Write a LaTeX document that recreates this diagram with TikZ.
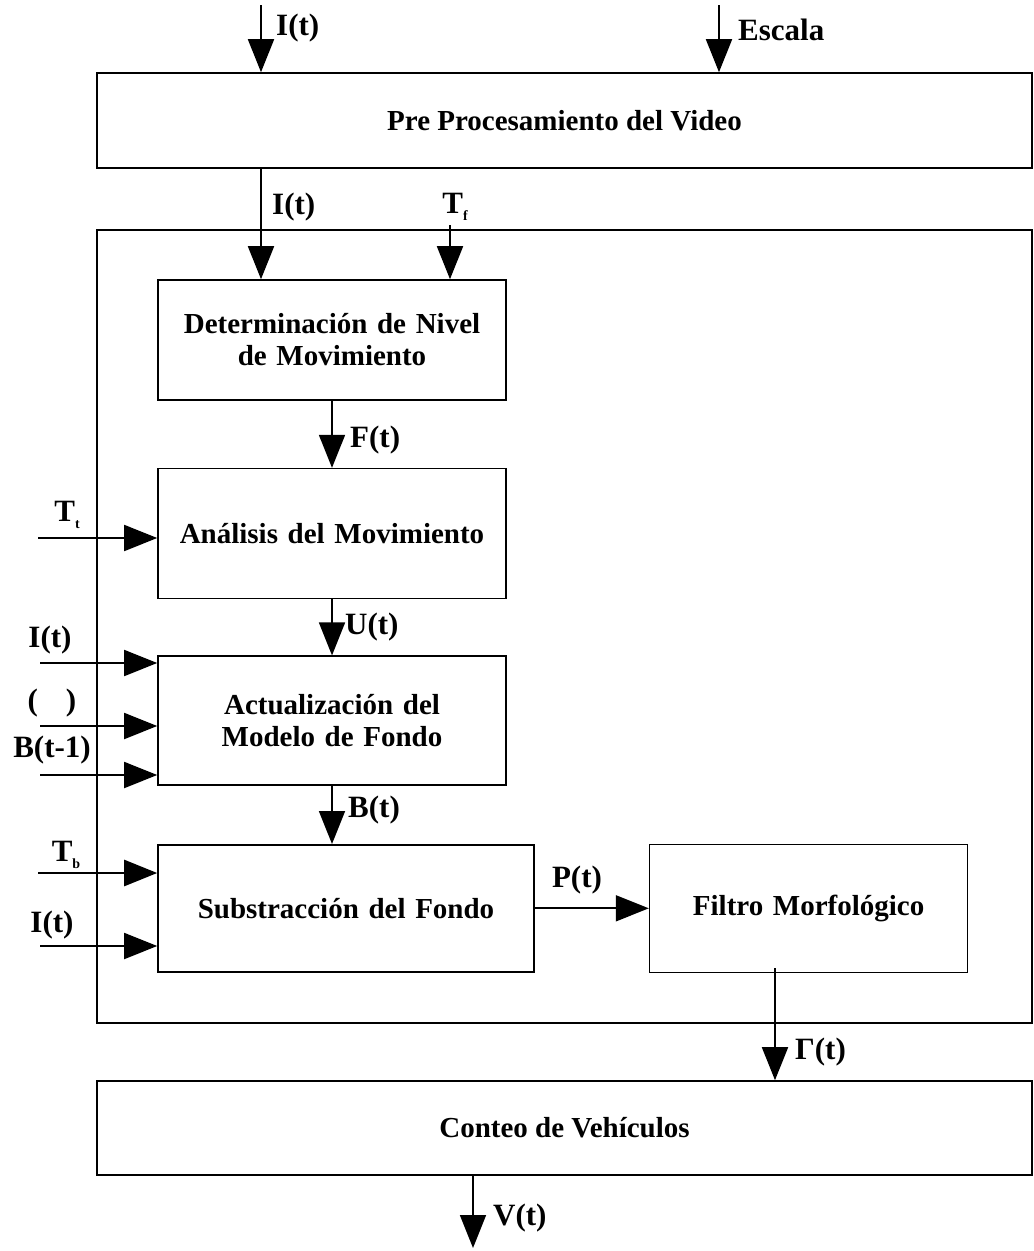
\documentclass[tikz,border=0pt]{standalone}
\usepackage{fontspec}
\setmainfont{Liberation Serif}
\usetikzlibrary{positioning,arrows.meta}
\tikzstyle{block} = [rectangle, draw, line width=1.6pt, inner sep=0pt,
    text width=340pt, align=center, minimum width=348pt]
\tikzstyle{wide} = [rectangle, draw, line width=1.6pt, inner sep=0pt,
    minimum width=935pt, minimum height=95pt]
\tikzstyle{line} = [draw, line width=1.8pt, -{Triangle[length=33pt,width=26pt]}]
\tikzstyle{lbl} = [inner sep=0pt, font=\bfseries\fontsize{31}{34}\selectfont]
\newcommand{\lowidx}[1]{\raisebox{-0.45ex}{\fontsize{14}{14}\selectfont #1}}

\begin{document}
\begin{tikzpicture}[x=1pt, y=-1pt, font=\bfseries\fontsize{29}{32}\selectfont]
  \useasboundingbox (0,0) rectangle (1034,1251);
  % cajas principales
  \node [wide] (pre) at (564.5,120.5) {Pre Procesamiento del Video};
  \draw [line width=1.6pt] (97,230) rectangle (1032,1023);
  \node [block, minimum height=120pt] (det) at (332,340)
        {Determinación de Nivel\\de Movimiento};
  \node [block, minimum height=130pt, below=67pt of det] (ana) {Análisis del Movimiento};
  \node [block, minimum height=129pt, below=56pt of ana] (act)
        {Actualización del\\Modelo de Fondo};
  \node [block, text width=370pt, minimum width=376pt, minimum height=127pt,
         below=58pt of act.south west, anchor=north west] (sub) {Substracción del Fondo};
  \node [block, text width=310pt, minimum width=318pt, minimum height=128pt,
         right=114pt of sub] (fil) {Filtro Morfológico};
  \node [wide, minimum height=94pt] (cnt) at (564.5,1128) {Conteo de Vehículos};
  % entradas
  \coordinate (inI) at (261,5);
  \coordinate (inE) at (719,5);
  \coordinate (inTf) at (450,225);
  \coordinate (inTt) at (38,538);
  \coordinate (inAI) at (40,663);
  \coordinate (inAX) at (40,726);
  \coordinate (inAB) at (40,775);
  \coordinate (inTb) at (38,873);
  \coordinate (inSI) at (40,946);
  \coordinate (outG) at (775,968);
  \coordinate (outV) at (473,1248);
  % conectores
  \path [line] (inI) -- (inI |- pre.north);
  \path [line] (inE) -- (inE |- pre.north);
  \path [line] (pre.south -| inI) -- (det.north -| inI);
  \path [line] (inTf) -- (det.north -| inTf);
  \path [line] (det) -- (ana);
  \path [line] (inTt) -- (inTt -| ana.west);
  \path [line] (ana) -- (act);
  \path [line] (inAI) -- (inAI -| act.west);
  \path [line] (inAX) -- (inAX -| act.west);
  \path [line] (inAB) -- (inAB -| act.west);
  \path [line] (act) -- (act.south |- sub.north);
  \path [line, line width=2.6pt] (inTb) -- (inTb -| sub.west);
  \path [line] (inSI) -- (inSI -| sub.west);
  \path [line] (sub) -- (fil);
  \path [line] (outG) -- (outG |- cnt.north);
  \path [line] (cnt.south -| outV) -- (outV);
  % etiquetas
  \node [lbl, anchor=west] (lI1) at (276,28) {I(t)};
  \node [lbl, anchor=west] (lE) at (738,30) {Escala};
  \node [lbl, anchor=west] (lI2) at (272,207) {I(t)};
  \node [lbl] (lTf) at (455,207) {T\lowidx{f}};
  \node [lbl, anchor=west] (lF) at (350,440) {F(t)};
  \node [lbl] (lTt) at (67,515) {T\lowidx{t}};
  \node [lbl, anchor=west] (lU) at (345,627) {U(t)};
  \node [lbl] (lAI) at (50,640) {I(t)};
  \node [lbl] (lAX) at (52,703) {(\hspace{0.9em})};
  \node [lbl] (lAB) at (52,750) {B(t-1)};
  \node [lbl, anchor=west] (lB) at (348,810) {B(t)};
  \node [lbl] (lTb) at (66,855) {T\lowidx{b}};
  \node [lbl] (lSI) at (52,925) {I(t)};
  \node [lbl] (lP) at (577,880) {P(t)};
  \node [lbl, anchor=west] (lG) at (795,1052) {Γ(t)};
  \node [lbl, anchor=west] (lV) at (493,1218) {V(t)};
\end{tikzpicture}
\end{document}
